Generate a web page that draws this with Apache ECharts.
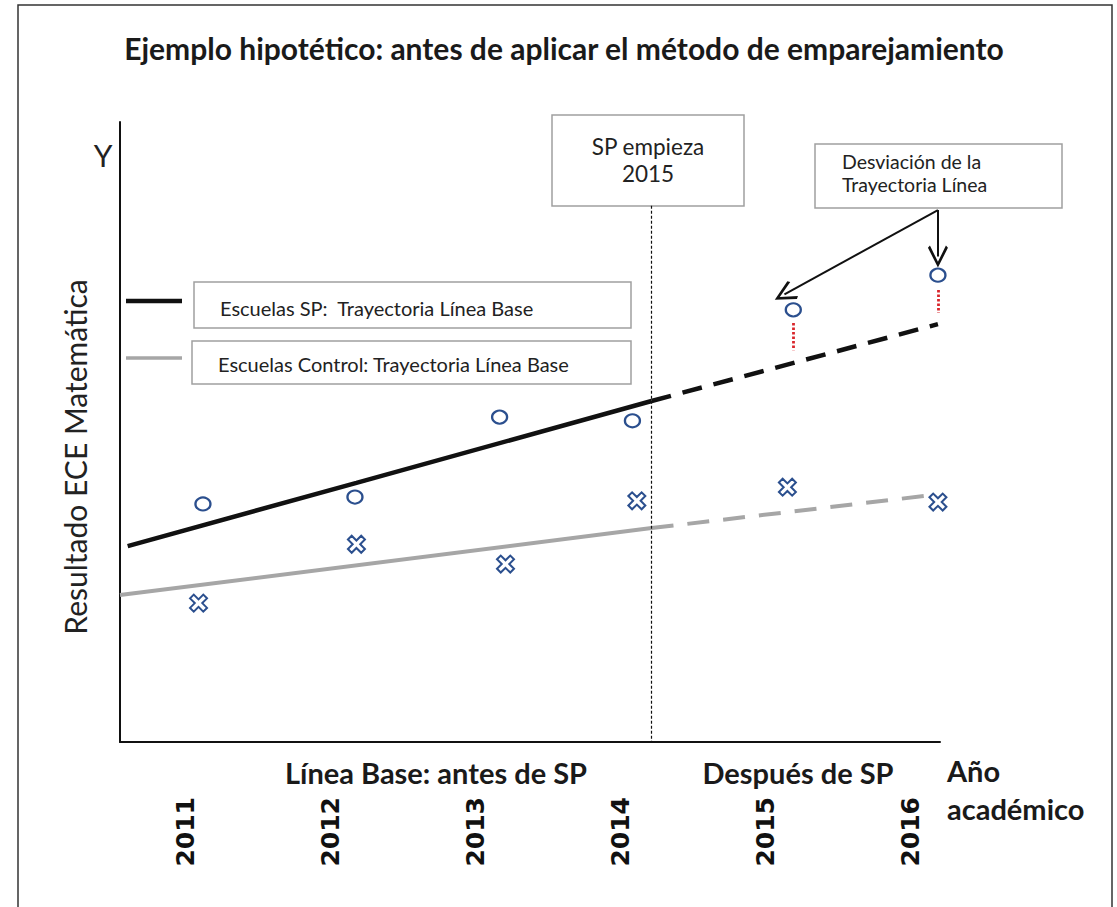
<!DOCTYPE html>
<html>
<head>
<meta charset="utf-8">
<script src="https://cdn.jsdelivr.net/npm/echarts@6/dist/echarts.min.js"></script>
<style>html,body{margin:0;padding:0;background:#fff}#c{width:1117px;height:907px}</style>
</head>
<body>
<div id="c"></div>
<script>
// ---- data (y in arbitrary score units 0-100) ----
const years = ['2011', '2012', '2013', '2014', '2015', '2016'];
const spX = [2011.02, 2012.05, 2013.03, 2013.93, 2015.02, 2016.0];
const spY = [38.4, 39.5, 52.4, 51.8, 69.7, 75.3];
const ctrlX = [2010.99, 2012.06, 2013.07, 2013.96, 2014.98, 2016.0];
const ctrlY = [22.4, 31.9, 28.7, 38.9, 41.1, 38.7];
const spTrendSolid = [[2010.51, 31.6], [2012.06, 41.8], [2014.06, 55.0]];
const spTrendDashed = [[2014.06, 55.0], [2016.0, 67.4]];
const ctrlTrendSolid = [[2010.458, 23.7], [2014.06, 34.5]];
const ctrlTrendDashed = [[2014.06, 34.5], [2015.95, 39.8]];
const deviations = [[2015.02, 67.6, 63.2], [2016.0, 72.9, 69.2]];
const startLine = [2014.06, 86.5];
const arrowFrom = [2016.0, 85.8];
const arrowTo = [[2014.96, 72.2], [2016.0, 78.3]];

const BLUE = '#2b4f8e';
const FONT = 'Lato, "Open Sans", sans-serif';
const crossPath = 'path://M0,2.2 L2.2,0 L5,2.8 L7.8,0 L10,2.2 L7.2,5 L10,7.8 L7.8,10 L5,7.2 L2.2,10 L0,7.8 L2.8,5 Z';
const chevron = 'path://M5,0 L10,9 L9,10 L5,2.6 L1,10 L0,9 Z';

const chart = echarts.init(document.getElementById('c'), null, { renderer: 'svg' });

function zip(xs, ys) { return xs.map((x, i) => [x, ys[i]]); }

const option = {
  animation: false,
  backgroundColor: '#fff',
  grid: [
    { left: 120, top: 122, width: 820, height: 620 },
    { left: 113, top: 741, width: 870, height: 1 }
  ],
  xAxis: [
    { type: 'value', gridIndex: 0, min: 2010.458, max: 2016.014,
      axisLine: { show: true, onZero: false, lineStyle: { color: '#111', width: 2 } },
      axisTick: { show: false }, axisLabel: { show: false }, splitLine: { show: false } },
    { type: 'category', gridIndex: 1, data: years,
      axisLine: { show: false }, axisTick: { show: false }, splitLine: { show: false },
      axisLabel: { rotate: 90, margin: 55, fontFamily: '"DejaVu Sans", sans-serif', fontWeight: 'bold', fontSize: 25, color: '#111' } }
  ],
  yAxis: [
    { type: 'value', gridIndex: 0, min: 0, max: 100,
      axisLine: { show: true, lineStyle: { color: '#111', width: 2 } },
      axisTick: { show: false }, axisLabel: { show: false }, splitLine: { show: false } },
    { type: 'value', gridIndex: 1, show: false }
  ],
  series: [
    { type: 'line', data: spTrendSolid, symbol: 'none', lineStyle: { color: '#111', width: 4.5 }, z: 3 },
    { type: 'line', data: spTrendDashed, symbol: 'none', lineStyle: { color: '#111', width: 4.5, type: [20, 12] }, z: 3 },
    { type: 'line', data: ctrlTrendSolid, symbol: 'none', lineStyle: { color: '#a6a6a6', width: 4 }, z: 3 },
    { type: 'line', data: ctrlTrendDashed, symbol: 'none', lineStyle: { color: '#a6a6a6', width: 4, type: [22, 14] }, z: 3 },
    { type: 'scatter', data: zip(spX, spY), symbol: 'circle', symbolSize: [15, 13],
      itemStyle: { color: '#fff', borderColor: BLUE, borderWidth: 2.2, opacity: 1 }, z: 5 },
    { type: 'scatter', data: zip(ctrlX, ctrlY), symbol: crossPath, symbolSize: 17,
      itemStyle: { color: '#fff', borderColor: BLUE, borderWidth: 2, opacity: 1 }, z: 5 },
    { type: 'line', data: [], symbol: 'none', silent: true,
      markLine: { silent: true, symbol: 'none', label: { show: false },
        lineStyle: { color: '#d9262c', width: 2.8, type: [2.5, 2] },
        data: deviations.map(d => [{ coord: [d[0], d[1]] }, { coord: [d[0], d[2]] }]) } },
    { type: 'line', data: [], symbol: 'none', silent: true,
      markLine: { silent: true, symbol: 'none', label: { show: false },
        lineStyle: { color: '#111', width: 1.2, type: [3, 2] },
        data: [[{ coord: startLine }, { coord: [startLine[0], 0] }]] } },
    { type: 'line', data: [], symbol: 'none', silent: true,
      markLine: { silent: true, symbol: ['none', chevron], symbolSize: [20, 22], label: { show: false },
        lineStyle: { color: '#111', width: 2, type: 'solid' }, itemStyle: { color: '#111' },
        data: arrowTo.map(t => [{ coord: arrowFrom }, { coord: t }]) } },
    { type: 'line', xAxisIndex: 1, yAxisIndex: 1, data: [] }
  ],
  graphic: [
    { type: 'rect', shape: { x: 18, y: 5, width: 1094, height: 960 }, style: { fill: 'none', stroke: '#333', lineWidth: 1.5 }, z: 0 },
    { type: 'text', x: 564, y: 48, style: { text: 'Ejemplo hipotético: antes de aplicar el método de emparejamiento', font: 'bold 30px ' + FONT, fill: '#1a1a1a', align: 'center', verticalAlign: 'middle' } },
    // legend
    { type: 'line', shape: { x1: 126, y1: 301, x2: 182, y2: 301 }, style: { stroke: '#111', lineWidth: 4.5 } },
    { type: 'rect', shape: { x: 194, y: 282, width: 437, height: 46 }, style: { fill: '#fff', stroke: '#a0a0a0', lineWidth: 1.5 } },
    { type: 'text', x: 220, y: 308, style: { text: 'Escuelas SP:  Trayectoria Línea Base', font: '20px ' + FONT, fill: '#222', align: 'left', verticalAlign: 'middle' } },
    { type: 'line', shape: { x1: 126, y1: 358, x2: 182, y2: 358 }, style: { stroke: '#a6a6a6', lineWidth: 3.5 } },
    { type: 'rect', shape: { x: 192, y: 341, width: 439, height: 43 }, style: { fill: '#fff', stroke: '#a0a0a0', lineWidth: 1.5 } },
    { type: 'text', x: 218, y: 364, style: { text: 'Escuelas Control: Trayectoria Línea Base', font: '20px ' + FONT, fill: '#222', align: 'left', verticalAlign: 'middle' } },
    // SP empieza box
    { type: 'rect', shape: { x: 552, y: 115, width: 192, height: 91 }, style: { fill: '#fff', stroke: '#a0a0a0', lineWidth: 1.5 } },
    { type: 'text', x: 648, y: 160, style: { text: 'SP empieza\n2015', font: '22.5px ' + FONT, lineHeight: 27, fill: '#222', align: 'center', verticalAlign: 'middle' } },
    // Desviación box
    { type: 'rect', shape: { x: 815, y: 144, width: 247, height: 64 }, style: { fill: '#fff', stroke: '#a0a0a0', lineWidth: 1.5 } },
    { type: 'text', x: 842, y: 173, style: { text: 'Desviación de la\nTrayectoria Línea', font: '19.5px ' + FONT, lineHeight: 23, fill: '#222', align: 'left', verticalAlign: 'middle' } },
    // axis texts
    { type: 'text', x: 103, y: 155, style: { text: 'Y', font: '30px ' + FONT, fill: '#222', align: 'center', verticalAlign: 'middle' } },
    { type: 'text', x: 75, y: 457, rotation: Math.PI / 2, style: { text: 'Resultado ECE Matemática', font: '30px ' + FONT, fill: '#222', align: 'center', verticalAlign: 'middle' } },
    { type: 'text', x: 436, y: 772, style: { text: 'Línea Base: antes de SP', font: 'bold 29px ' + FONT, fill: '#1a1a1a', align: 'center', verticalAlign: 'middle' } },
    { type: 'text', x: 798, y: 772, style: { text: 'Después de SP', font: 'bold 29px ' + FONT, fill: '#1a1a1a', align: 'center', verticalAlign: 'middle' } },
    { type: 'text', x: 947, y: 770, style: { text: 'Año', font: 'bold 29px ' + FONT, fill: '#1a1a1a', align: 'left', verticalAlign: 'middle' } },
    { type: 'text', x: 947, y: 808, style: { text: 'académico', font: 'bold 29px ' + FONT, fill: '#1a1a1a', align: 'left', verticalAlign: 'middle' } }
  ]
};
chart.setOption(option);
</script>
</body>
</html>
